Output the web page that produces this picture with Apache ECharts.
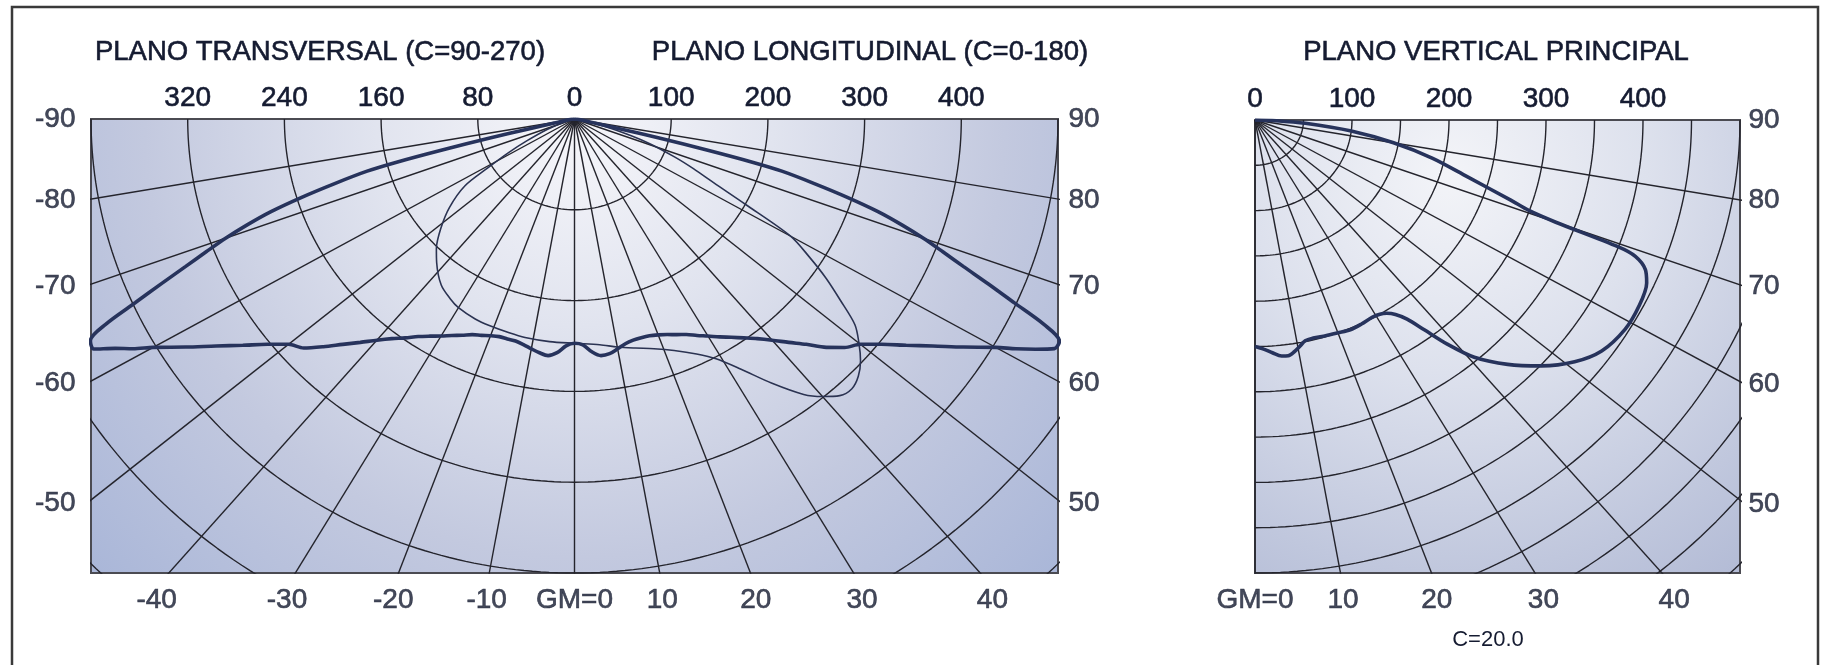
<!DOCTYPE html>
<html><head><meta charset="utf-8">
<script src="https://cdn.jsdelivr.net/npm/echarts@6/dist/echarts.min.js"></script>
<style>html,body{margin:0;padding:0;background:#fff}#c{width:1823px;height:665px}</style>
</head><body><div id="c"></div>
<script>
// ---- DATA (gamma angle in degrees, intensity in grid units: 100 per circle on the right-hand scale)
const TRANS_ANG = [-90,-84,-80,-78,-77,-76.5,-76,-75.5,-75,-74,-73,-72,-71,-70,-69,-68,-67,-66,-65,-64,-63,-62,-61,-60,-58,-56,-54,-52,-50,-48,-46,-44,-42,-40,-38,-36,-34,-32,-30,-28,-26,-24,-22,-20,-18,-16,-14,-12,-10,-8,-6,-4,-2,
  0,2,4,6,8,10,12,14,16,18,20,22,24,26,28,30,32,34,36,38,40,42,44,46,48,50,52,54,56,58,60,61,62,63,64,65,66,67,68,69,70,71,72,73,74,75,75.5,76,76.5,77,78,80,84,90];
const TRANS_INT = [0,3,10,20,50,90,140,190,222,258,295,330,358,384,408,434,464,497,535,557,558,538,522,503,474,447,424,403,386,377,361,345,331,318,307,298,289,282,276,270,265,260,257,254,252,252,252,254,257,260,262,258,250,
  247,249,257,262,261,257,253,251,250.5,251,253,256,260,264,270,276,283,290,298,307,318,331,345,362,376,386,403,424,447,474,503,522,540,557,558,536,498,465,434,408,384,358,330,295,258,222,190,140,90,50,20,10,3,0];

const LONG_ANG = [-90,-75,-68,-64,-61.5,-59,-57,-53,-49,-45,-42,-37,-33,-30,-25,-21,-16,-12,-6,0,6,10,14,18,22,26,29,32,35,38,40,42,44,46,48,50,52,54,56,58,60,62,64,66,68,71,74,78,83,90];
const LONG_INT = [0,8,30,55,78,105,135,162,183,202,213,229,236,240,243,244,245,246,246.5,247,250,255,260,266,275,288,302,325,355,385,399,410,413,408,398,384,368,340,314,286,258,200,160,135,112,80,45,15,3,0];

const VERT_ANG = [0,2,4,6,7.5,9,10.5,12,14,17,20,23,26,29,31,32.5,34,35.5,37,38.7,40.8,44,47.4,51,54.5,58.8,62.5,66,67.7,69,69.5,70,70.5,71.5,74,77,80,83,86,88,90];
const VERT_INT = [250,253,257.5,262,262.5,259,254,249,248,249,250,251.5,250.5,249,250,253,259,270,290,317,346,375,401,424,439,446,446,442,435,420,400,330,300,277,228,188,145,100,52,22,0];

const CIRCLES_L = [100,200,300,400,500,600,700];
const CIRCLES_R = [50,100,150,200,250,300,350,400,450,500,550,600,650,700];
const RAYS_L = [-80,-70,-60,-50,-40,-30,-20,-10,0,10,20,30,40,50,60,70,80];
const RAYS_R = [0,10,20,30,40,50,60,70,80];
const SIDE_ANGLES = [90,80,70,60,50];
const BOTTOM_ANGLES_L = [-40,-30,-20,-10,0,10,20,30,40];
const BOTTOM_ANGLES_R = [0,10,20,30,40];
const LEFT_SCALE_FACTOR = 0.8;   // transversal side labels: 80 per circle
const TITLES = ['PLANO TRANSVERSAL (C=90-270)','PLANO LONGITUDINAL (C=0-180)','PLANO VERTICAL PRINCIPAL'];
const C_LABEL = 'C=20.0';

// ---- helpers
const rad = d => d * Math.PI / 180;
const toXY = (g, r) => [r * Math.sin(rad(g)), -r * Math.cos(rad(g))];
const FONT = 'Liberation Sans, Arial, sans-serif';
const TXT = '#151b31';
const GRIDLINE = { color: '#24242c', width: 1.4 };

const series = [];
function addCircle(gi, r, a0, a1) {
  const d = [];
  for (let a = a0; a <= a1; a += 1) d.push(toXY(a, r));
  series.push({ type: 'line', xAxisIndex: gi, yAxisIndex: gi, data: d, showSymbol: false, clip: true,
    lineStyle: GRIDLINE, silent: true, z: 2 });
}
function addRay(gi, g) {
  series.push({ type: 'line', xAxisIndex: gi, yAxisIndex: gi, data: [[0, 0], toXY(g, 900)], showSymbol: false, clip: true,
    lineStyle: GRIDLINE, silent: true, z: 2 });
}
CIRCLES_L.forEach(r => addCircle(0, r, -90, 90));
RAYS_L.forEach(g => addRay(0, g));
CIRCLES_R.forEach(r => addCircle(1, r, 0, 90));
RAYS_R.forEach(g => addRay(1, g));

function curve(gi, angs, ints, width, color) {
  series.push({ type: 'line', xAxisIndex: gi, yAxisIndex: gi, data: angs.map((g, i) => toXY(g, ints[i])),
    showSymbol: false, clip: true, smooth: 0.3, lineStyle: { color, width }, z: 5, silent: true });
}
curve(0, LONG_ANG, LONG_INT, 1.6, '#2b3352');
curve(0, TRANS_ANG, TRANS_INT, 3.6, '#27335c');
curve(1, VERT_ANG, VERT_INT, 3.6, '#27335c');

const TXT_STYLE = { color: TXT, fontSize: 28, fontFamily: FONT, textBorderColor: TXT, textBorderWidth: 0.6 };
function labels(gi, data, pos, dist) {
  series.push({ type: 'scatter', xAxisIndex: gi, yAxisIndex: gi, clip: false, symbolSize: 1,
    itemStyle: { color: 'rgba(0,0,0,0)' }, silent: true, z: 6,
    data: data.map(d => ({ value: [d[0], d[1]], label: { formatter: d[2] } })),
    label: Object.assign({ show: true, position: pos, distance: dist }, TXT_STYLE) });
}
const sideY = g => -505 * Math.cos(rad(g)) / Math.sin(rad(g));
labels(0, SIDE_ANGLES.map(g => [-500, sideY(g), '-' + g]), 'left', 15);
labels(0, SIDE_ANGLES.map(g => [500, sideY(g), String(g)]), 'right', 10);
labels(1, SIDE_ANGLES.map(g => [500, sideY(g), String(g)]), 'right', 8);
labels(0, BOTTOM_ANGLES_L.map(g => [515 * Math.tan(rad(g)), -500, g === 0 ? 'GM=0' : String(g)]), 'bottom', 13);
labels(1, BOTTOM_ANGLES_R.map(g => [515 * Math.tan(rad(g)), -500, g === 0 ? 'GM=0' : String(g)]), 'bottom', 13);

const bgL = { type: 'radial', x: 0.5, y: 0.02, r: 1.45, colorStops: [
  { offset: 0, color: '#f6f6fa' }, { offset: 0.3, color: '#e1e4ef' }, { offset: 0.65, color: '#c3c9df' }, { offset: 1, color: '#a9b6d8' }] };
const bgR = { type: 'radial', x: 0.4, y: 0.12, r: 1.25, colorStops: [
  { offset: 0, color: '#f3f4f8' }, { offset: 0.35, color: '#dde1ed' }, { offset: 0.7, color: '#c0c7dd' }, { offset: 1, color: '#a9b2d0' }] };

const topAxis = (gi, min, max, fmt) => ({
  type: 'value', gridIndex: gi, min, max, interval: 100, position: 'top',
  axisLine: { show: false }, axisTick: { show: false }, splitLine: { show: false },
  axisLabel: Object.assign({ margin: 7, formatter: fmt }, TXT_STYLE)
});
const yAx = gi => ({ type: 'value', gridIndex: gi, min: -500, max: 0, show: false, splitLine: { show: false } });
const titleStyle = (t) => ({ text: t, fill: TXT, stroke: TXT, lineWidth: 0.6, font: '27.5px ' + FONT, align: 'center', verticalAlign: 'middle' });

const option = {
  animation: false,
  backgroundColor: '#ffffff',
  grid: [
    { left: 91, top: 119, width: 967, height: 454, show: true, backgroundColor: bgL, borderColor: '#4b4b52', borderWidth: 2 },
    { left: 1255, top: 120, width: 485, height: 453, show: true, backgroundColor: bgR, borderColor: '#4b4b52', borderWidth: 2 }
  ],
  xAxis: [
    topAxis(0, -500, 500, v => Math.abs(v) >= 500 ? '' : String(v < 0 ? -v * LEFT_SCALE_FACTOR : v)),
    topAxis(1, 0, 500, v => v >= 500 ? '' : String(v))
  ],
  yAxis: [yAx(0), yAx(1)],
  graphic: [
    { type: 'rect', shape: { x: 12, y: 7, width: 1806, height: 700 }, style: { fill: 'none', stroke: '#3a3a3a', lineWidth: 2.5 }, silent: true },
    { type: 'text', x: 320, y: 52, style: titleStyle(TITLES[0]) },
    { type: 'text', x: 870, y: 52, style: titleStyle(TITLES[1]) },
    { type: 'text', x: 1496, y: 52, style: titleStyle(TITLES[2]) },
    { type: 'text', x: 1488, y: 640, style: { text: C_LABEL, fill: TXT, font: '22px ' + FONT, align: 'center', verticalAlign: 'middle' } }
  ],
  series
};
echarts.init(document.getElementById('c'), null, { renderer: 'canvas' }).setOption(option);
</script></body></html>
